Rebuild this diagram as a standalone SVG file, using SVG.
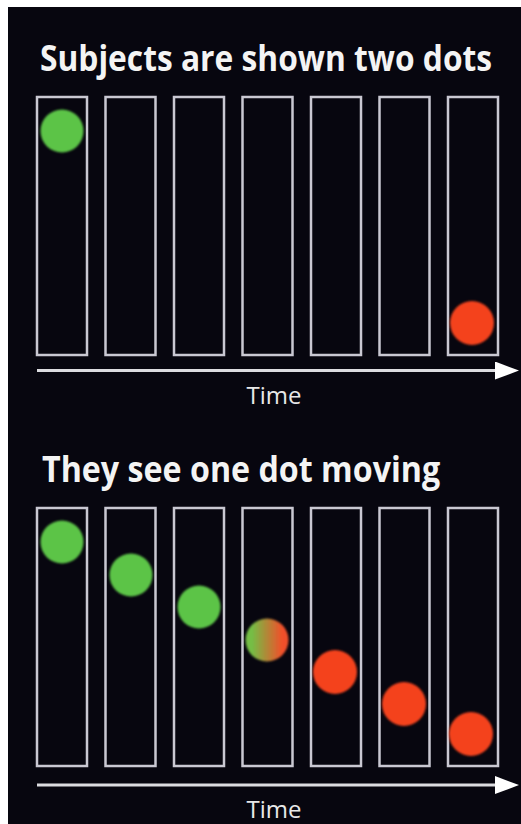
<svg xmlns="http://www.w3.org/2000/svg" width="521" height="824" viewBox="0 0 521 824">
<defs>
<style>
.bg{fill:#07060f}
.frame{fill:none;stroke:#c9c8d2;stroke-width:2.5}
.title{font-family:"Open Sans","Liberation Sans",sans-serif;font-weight:bold;font-size:36px;fill:#f4f4f4}
.lbl{font-family:"Open Sans","Liberation Sans",sans-serif;font-size:24px;fill:#e8e8e8}
.axis{stroke:#dcdce0;stroke-width:3;fill:none}
.green{fill:#5bc446}
.red{fill:#f4421f}
</style>
<linearGradient id="mix" x1="0" y1="0" x2="1" y2="0">
<stop offset="0.15" stop-color="#74be45"/>
<stop offset="0.85" stop-color="#f0502a"/>
</linearGradient>
<marker id="head" markerWidth="8" markerHeight="6" refX="0" refY="3" orient="auto" markerUnits="strokeWidth">
<path d="M0,0 L8,3 L0,6 Z" fill="#ffffff"/>
</marker>
<filter id="soft" x="-20%" y="-20%" width="140%" height="140%"><feGaussianBlur stdDeviation="0.8"/></filter>
</defs>
<rect x="0" y="0" width="521" height="824" fill="#ffffff"/>
<rect class="bg" x="8" y="7" width="513" height="817"/>

<g id="top-panel">
<text class="title" transform="translate(40,71) scale(0.89,1)" x="0" y="0" textLength="508" lengthAdjust="spacingAndGlyphs">Subjects are shown two dots</text>
<g id="top-frames">
<rect class="frame" x="37" y="97" width="50" height="258"/>
<rect class="frame" x="105.5" y="97" width="50" height="258"/>
<rect class="frame" x="174" y="97" width="50" height="258"/>
<rect class="frame" x="242.5" y="97" width="50" height="258"/>
<rect class="frame" x="311" y="97" width="50" height="258"/>
<rect class="frame" x="379.5" y="97" width="50" height="258"/>
<rect class="frame" x="448" y="97" width="50" height="258"/>
</g>
<circle id="top-green" class="green" cx="62" cy="131" r="21.5" filter="url(#soft)"/>
<circle id="top-red" class="red" cx="472" cy="323" r="22" filter="url(#soft)"/>
<text class="lbl" x="274" y="404" text-anchor="middle">Time</text>
</g>

<g id="bottom-panel">
<text class="title" transform="translate(42,482) scale(0.907,1)" x="0" y="0" textLength="439" lengthAdjust="spacingAndGlyphs">They see one dot moving</text>
<g id="bottom-frames">
<rect class="frame" x="37" y="508" width="50" height="258"/>
<rect class="frame" x="105.5" y="508" width="50" height="258"/>
<rect class="frame" x="174" y="508" width="50" height="258"/>
<rect class="frame" x="242.5" y="508" width="50" height="258"/>
<rect class="frame" x="311" y="508" width="50" height="258"/>
<rect class="frame" x="379.5" y="508" width="50" height="258"/>
<rect class="frame" x="448" y="508" width="50" height="258"/>
</g>
<g id="bottom-dots" filter="url(#soft)">
<circle class="green" cx="62" cy="542" r="21.5"/>
<circle class="green" cx="131" cy="575" r="21.5"/>
<circle class="green" cx="199" cy="607" r="21.5"/>
<circle fill="url(#mix)" cx="267" cy="640" r="21.5"/>
<circle class="red" cx="335" cy="672" r="22"/>
<circle class="red" cx="404" cy="704" r="22"/>
<circle class="red" cx="471" cy="734" r="22"/>
</g>
<text class="lbl" x="274" y="818" text-anchor="middle">Time</text>
</g>

<g id="connectors">
<line class="axis" x1="37" y1="370.5" x2="495" y2="370.5" marker-end="url(#head)"/>
<line class="axis" x1="37" y1="785" x2="495" y2="785" marker-end="url(#head)"/>
</g>
</svg>
